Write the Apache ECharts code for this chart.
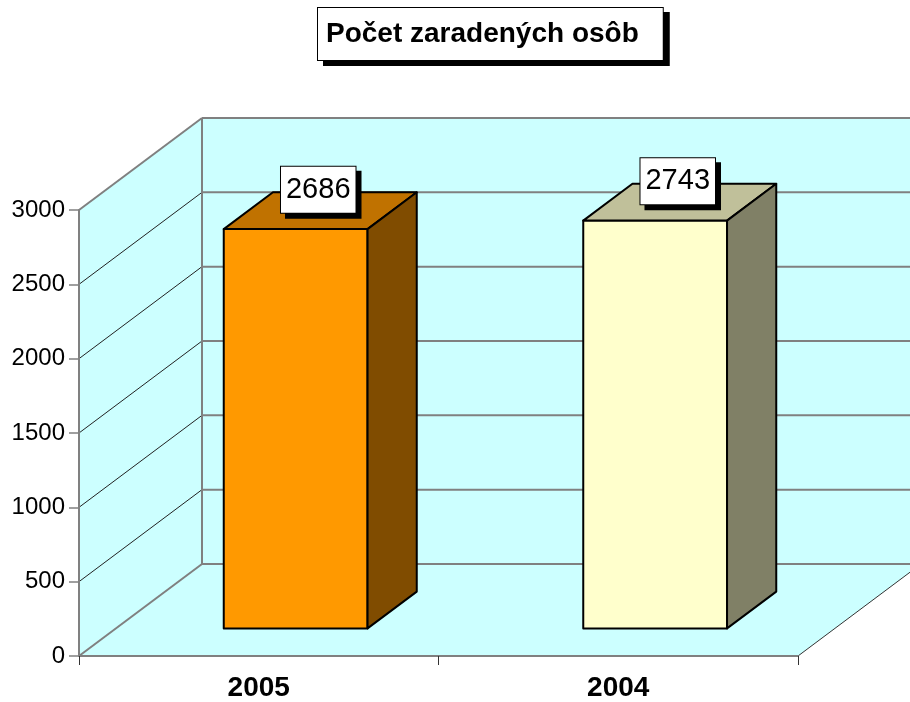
<!DOCTYPE html>
<html>
<head>
<meta charset="utf-8">
<script src="https://cdn.jsdelivr.net/npm/echarts@6/dist/echarts.min.js"></script>
<style>
  html, body { margin: 0; padding: 0; background: #fff; }
  #chart { width: 910px; height: 702px; }
</style>
</head>
<body>
<div id="chart"></div>
<script>
// data
var categories = ['2005', '2004']
var values = [2686, 2743]
var yTicks = [0, 500, 1000, 1500, 2000, 2500, 3000]
var titleText = 'Počet zaradených osôb'

// colours per bar: front / top / side
var frontColors = ['#FF9900', '#FFFFCC']
var topColors = ['#C07200', '#C0C09A']
var sideColors = ['#804C00', '#808066']

// oblique depth of the plot box (pixels)
var DX = 123
var DY = -92
var FONT = 'Liberation Sans, Arial, sans-serif'

var myChart = echarts.init(document.getElementById('chart'))

function renderWalls(params, api) {
  var cs = params.coordSys
  var x0 = cs.x
  var x1 = cs.x + cs.width
  var yb = cs.y + cs.height
  var yt = cs.y
  var fill = '#CCFFFF'
  var children = [
    // side wall
    { type: 'polygon', shape: { points: [[x0, yb], [x0, yt], [x0 + DX, yt + DY], [x0 + DX, yb + DY]] }, style: { fill: fill } },
    // back wall
    { type: 'polygon', shape: { points: [[x0 + DX, yt + DY], [x1 + DX, yt + DY], [x1 + DX, yb + DY], [x0 + DX, yb + DY]] }, style: { fill: fill } },
    // floor
    { type: 'polygon', shape: { points: [[x0, yb], [x1, yb], [x1 + DX, yb + DY], [x0 + DX, yb + DY]] }, style: { fill: fill } }
  ]
  yTicks.forEach(function(v, i) {
    var y = api.coord([0, v])[1]
    var edge = (i === 0 || i === yTicks.length - 1)
    children.push({
      type: 'line',
      shape: { x1: x0, y1: y, x2: x0 + DX, y2: y + DY },
      style: { stroke: edge ? '#808080' : '#222', lineWidth: edge ? 2 : 1 }
    })
    children.push({
      type: 'line',
      shape: { x1: x0 + DX, y1: y + DY, x2: x1 + DX, y2: y + DY },
      style: { stroke: '#808080', lineWidth: 2 }
    })
  })
  // back wall left edge
  children.push({
    type: 'line',
    shape: { x1: x0 + DX, y1: yt + DY, x2: x0 + DX, y2: yb + DY },
    style: { stroke: '#808080', lineWidth: 2 }
  })
  // floor right edge
  children.push({
    type: 'line',
    shape: { x1: x1, y1: yb, x2: x1 + DX, y2: yb + DY },
    style: { stroke: '#333', lineWidth: 1 }
  })
  return { type: 'group', children: children }
}

function renderBar(params, api) {
  var i = params.dataIndex
  var cat = api.value(0)
  var v = api.value(1)
  var base = api.coord([cat, 0])
  var top = api.coord([cat, v])
  var w = api.size([1, 0])[0] * 0.4
  var f = 0.3 // front face depth
  var d = 0.4 // bar depth
  var xl = base[0] - w / 2 + f * DX
  var xr = base[0] + w / 2 + f * DX
  var yb = base[1] + f * DY
  var yt = top[1] + f * DY
  var ddx = d * DX
  var ddy = d * DY
  var line = { stroke: '#000', lineWidth: 2, lineJoin: 'round' }
  return {
    type: 'group',
    children: [
      { type: 'polygon', shape: { points: [[xl, yb], [xl, yt], [xr, yt], [xr, yb]] },
        style: Object.assign({ fill: frontColors[i] }, line) },
      { type: 'polygon', shape: { points: [[xl, yt], [xr, yt], [xr + ddx, yt + ddy], [xl + ddx, yt + ddy]] },
        style: Object.assign({ fill: topColors[i] }, line) },
      { type: 'polygon', shape: { points: [[xr, yb], [xr, yt], [xr + ddx, yt + ddy], [xr + ddx, yb + ddy]] },
        style: Object.assign({ fill: sideColors[i] }, line) },
      {
        type: 'text',
        x: top[0] + 0.5 * DX - 2,
        y: top[1] + 0.5 * DY - 21,
        style: {
          text: String(values[i]),
          fontSize: 29,
          fontFamily: FONT,
          fill: '#000',
          align: 'center',
          verticalAlign: 'middle',
          backgroundColor: '#fff',
          borderColor: '#000',
          borderWidth: 1,
          padding: [9, 5, 8, 5],
          shadowColor: '#000',
          shadowOffsetX: 5,
          shadowOffsetY: 5,
          shadowBlur: 0
        }
      }
    ]
  }
}

var option = {
  backgroundColor: '#fff',
  animation: false,
  graphic: [
    {
      type: 'text',
      left: 317,
      top: 7,
      z: 10,
      style: {
        text: titleText,
        fontSize: 28,
        fontWeight: 'bold',
        fontFamily: FONT,
        fill: '#000',
        lineHeight: 34,
        backgroundColor: '#fff',
        borderColor: '#000',
        borderWidth: 1,
        padding: [9, 24, 9, 8],
        shadowColor: '#000',
        shadowOffsetX: 6,
        shadowOffsetY: 5,
        shadowBlur: 0
      }
    }
  ],
  grid: {
    left: 79,
    top: 210,
    width: 719,
    height: 447
  },
  xAxis: {
    type: 'category',
    data: categories,
    axisLine: { lineStyle: { color: '#808080', width: 2 } },
    axisTick: { show: true, length: 9, lineStyle: { color: '#333', width: 1 } },
    axisLabel: { fontSize: 28, fontWeight: 'bold', fontFamily: FONT, color: '#000', margin: 18 },
    splitLine: { show: false }
  },
  yAxis: {
    type: 'value',
    min: 0,
    max: 3000,
    interval: 500,
    axisLine: { show: true, lineStyle: { color: '#808080', width: 2 } },
    axisTick: { show: true, length: 10, lineStyle: { color: '#808080', width: 1.5 } },
    axisLabel: {
      fontSize: 24, fontFamily: FONT, color: '#000', margin: 14,
      formatter: function(v) { return String(v) }
    },
    splitLine: { show: false }
  },
  series: [
    {
      type: 'custom',
      z: -1,
      silent: true,
      data: [[0, 0]],
      renderItem: renderWalls
    },
    {
      type: 'custom',
      z: 3,
      silent: true,
      data: values.map(function(v, i) { return [i, v] }),
      renderItem: renderBar
    }
  ]
}
myChart.setOption(option)
</script>
</body>
</html>
